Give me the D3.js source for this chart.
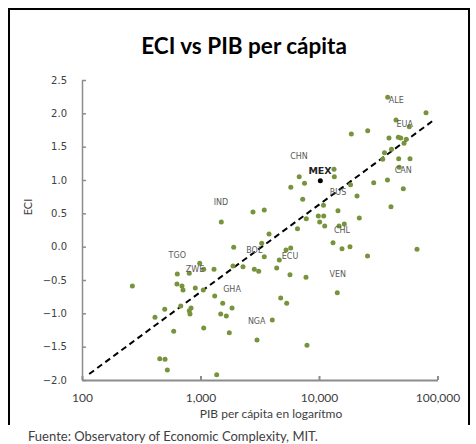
<!DOCTYPE html>
<html>
<head>
<meta charset="utf-8">
<script src="https://cdn.jsdelivr.net/npm/d3@7"></script>
<style>
  body { margin: 0; background: #fff; }
  svg text { fill: #404040; }
</style>
</head>
<body>
<div class="graph"></div>
<script>
/*---------- DATA ----------*/

//PIB per capita (USD) of every country
const pib = [2773, 3453, 1498, 3785, 6585, 3285, 1906, 5267, 5770, 985,
    637, 804, 1064, 1300, 1880, 2284, 2845, 3098, 3453, 4624,
    4397, 5692, 266, 633, 698, 712, 904, 1056, 1318, 1539,
    1845, 499, 413, 681, 832, 804, 815, 1481, 1651, 4752,
    5339, 4036, 594, 1064, 1750, 2999, 453, 502, 525, 1370,
    37990, 79980, 44630, 57810, 18740, 25770, 38960, 46690, 48930, 54540,
    52170, 35700, 40910, 34480, 47060, 58610, 47520, 13390, 13470, 6807,
    7545, 5781, 18450, 28950, 37840, 51460, 20930, 7285, 10910, 14460,
    40510, 7813, 9865, 10960, 10140, 11170, 21880, 14750, 16350, 13130,
    18260, 15640, 25670, 67140, 7767, 14270, 7918];

//economic complexity index, same order
const eci = [0.52, 0.55, 0.37, 0.19, 0.27, 0.05, -0.01, -0.05, -0.02, -0.25,
    -0.41, -0.40, -0.34, -0.34, -0.29, -0.30, -0.34, -0.37, -0.15, -0.20,
    -0.32, -0.42, -0.59, -0.56, -0.59, -0.65, -0.62, -0.65, -0.74, -0.85,
    -0.92, -0.94, -1.06, -0.89, -0.92, -0.96, -1.01, -1.01, -1.04, -0.77,
    -0.85, -1.10, -1.27, -1.22, -1.29, -1.40, -1.68, -1.69, -1.85, -1.92,
    2.24, 2.01, 1.90, 1.80, 1.69, 1.74, 1.63, 1.64, 1.63, 1.61,
    1.55, 1.41, 1.46, 1.31, 1.32, 1.32, 1.19, 1.16, 1.05, 1.05,
    0.95, 0.89, 0.93, 0.96, 1.00, 0.87, 0.76, 0.71, 0.62, 0.54,
    0.60, 0.42, 0.46, 0.46, 0.37, 0.31, 0.43, 0.31, 0.34, 0.06,
    0.00, -0.03, -0.14, -0.04, -0.46, -0.69, -1.48];

//Mexico, highlighted
const mexPib = [10260];
const mexEci = [0.99];

//country labels and where they sit (in data units)
const labelNames = ["IND", "TGO", "ZWE", "BOL", "ECU", "GHA", "NGA", "ALE",
    "EUA", "CAN", "CHN", "RUS", "CHL", "VEN"];
const labelPib = [1489, 637, 899, 2845, 5692, 1845, 2981, 44890,
    52880, 51460, 6780, 14460, 15640, 14380];
const labelEci = [0.66, -0.13, -0.34, -0.05, -0.14, -0.64, -1.12, 2.19,
    1.84, 1.15, 1.35, 0.82, 0.25, -0.41];
const mexLabel = {name: "MEX", pib: 10200, eci: 1.15};

//trend line end points
const trendPib = [115, 93300];
const trendEci = [-1.91, 1.90];

//ticks
const xTicks = [100, 1000, 10000, 100000];
const yTicks = [-2.0, -1.5, -1.0, -0.5, 0.0, 0.5, 1.0, 1.5, 2.0, 2.5];

/*---------- D3 STUFF ----------*/

const SIZE = {X: 476, Y: 444};
const PLOT = {LEFT: 82, RIGHT: 437.5, TOP: 80, BOTTOM: 380};

const svg = d3.select(".graph").append("svg")
    .attr("width", SIZE.X)
    .attr("height", SIZE.Y);

//frame (open at the bottom)
svg.append("path")
    .attr("d", "M9,425V9H469V425")
    .attr("fill", "none")
    .attr("stroke", "#000")
    .attr("stroke-width", 2);

//title
svg.append("text")
    .attr("x", 244)
    .attr("y", 54)
    .attr("text-anchor", "middle")
    .style("font-family", "Lato")
    .style("font-weight", "bold")
    .style("font-size", "22.5px")
    .style("fill", "#000")
    .text("ECI vs PIB per cápita");

//scales
const x = d3.scaleLog()
    .domain([100, 100000])
    .range([PLOT.LEFT, PLOT.RIGHT]);

const y = d3.scaleLinear()
    .domain([-2, 2.5])
    .range([PLOT.BOTTOM, PLOT.TOP]);

//axes
const yAxis = svg.append("g")
    .attr("transform", `translate(${PLOT.LEFT},0)`)
    .call(d3.axisLeft(y)
        .tickValues(yTicks)
        .tickFormat(d3.format(".1f"))
        .tickSizeInner(-4)
        .tickSizeOuter(0)
        .tickPadding(15));

const xAxis = svg.append("g")
    .attr("transform", `translate(0,${PLOT.BOTTOM})`)
    .call(d3.axisBottom(x)
        .tickValues(xTicks)
        .tickFormat(d3.format(","))
        .tickSizeInner(-4)
        .tickSizeOuter(0)
        .tickPadding(13));

yAxis.selectAll("path, line").attr("stroke", "#8c8c8c").attr("stroke-width", 1.5);
xAxis.selectAll("path, line").attr("stroke", "#8c8c8c").attr("stroke-width", 2);
yAxis.selectAll("text")
    .style("font-family", "DejaVu Sans")
    .style("font-size", "10px")
    .style("fill", "#404040");
xAxis.selectAll("text")
    .style("font-family", "Lato")
    .style("font-size", "12px")
    .style("fill", "#404040");

//axis titles
svg.append("text")
    .attr("transform", "translate(32,207) rotate(-90)")
    .attr("text-anchor", "middle")
    .style("font-family", "Lato")
    .style("font-size", "11px")
    .text("ECI");

svg.append("text")
    .attr("x", 271)
    .attr("y", 418)
    .attr("text-anchor", "middle")
    .style("font-family", "Lato")
    .style("font-size", "12px")
    .text("PIB per cápita en logarítmo");

//footer
svg.append("text")
    .attr("x", 28)
    .attr("y", 441)
    .style("font-family", "Lato")
    .style("font-size", "13px")
    .text("Fuente: Observatory of Economic Complexity, MIT.");

//trend line
const trend = trendPib.map((d, i) => ({pib: d, eci: trendEci[i]}));
svg.append("path")
    .datum(trend)
    .attr("d", d3.line().x(d => x(d.pib)).y(d => y(d.eci)))
    .attr("fill", "none")
    .attr("stroke", "#000")
    .attr("stroke-width", 2)
    .attr("stroke-dasharray", "6,4");

//country dots
const points = pib.map((d, i) => ({pib: d, eci: eci[i]}));
svg.append("g")
    .selectAll("circle")
    .data(points)
    .enter()
    .append("circle")
        .attr("cx", d => x(d.pib))
        .attr("cy", d => y(d.eci))
        .attr("r", 2.5)
        .attr("fill", "#77933c");

//mexico dot
svg.append("g")
    .selectAll("circle")
    .data(mexPib.map((d, i) => ({pib: d, eci: mexEci[i]})))
    .enter()
    .append("circle")
        .attr("cx", d => x(d.pib))
        .attr("cy", d => y(d.eci))
        .attr("r", 2.5)
        .attr("fill", "#000");

//country labels
const labels = labelNames.map((d, i) => ({name: d, pib: labelPib[i], eci: labelEci[i]}));
svg.append("g")
    .selectAll("text")
    .data(labels)
    .enter()
    .append("text")
        .attr("x", d => x(d.pib))
        .attr("y", d => y(d.eci))
        .attr("text-anchor", "middle")
        .attr("dominant-baseline", "central")
        .style("font-family", "DejaVu Sans")
        .style("font-size", "8px")
        .style("fill", "#595959")
        .text(d => d.name);

svg.append("text")
    .attr("x", x(mexLabel.pib))
    .attr("y", y(mexLabel.eci))
    .attr("text-anchor", "middle")
    .attr("dominant-baseline", "central")
    .style("font-family", "DejaVu Sans")
    .style("font-weight", "bold")
    .style("font-size", "9.5px")
    .style("fill", "#222")
    .text(mexLabel.name);
</script>
</body>
</html>
